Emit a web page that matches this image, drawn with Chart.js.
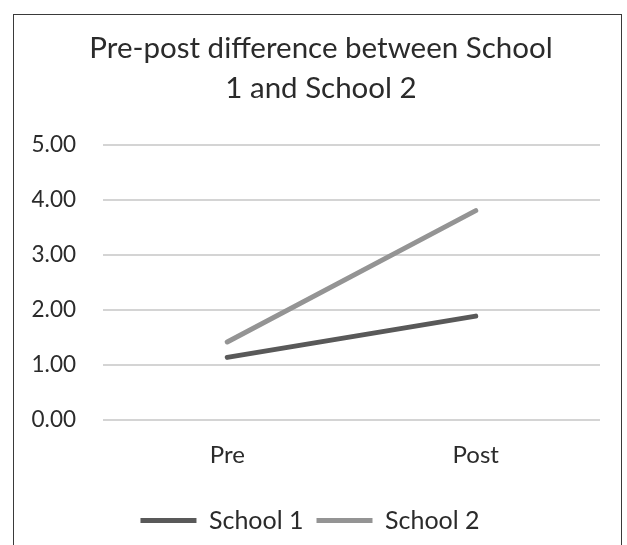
<!DOCTYPE html>
<html>
<head>
  <title>Pre-post difference</title>
  <script src="https://cdn.jsdelivr.net/npm/chart.js"></script>
  <style>
    body {
      margin: 0;
      padding: 0;
      background: #fff;
      overflow: hidden;
    }
    .wrap {
      position: relative;
      width: 627px;
      height: 545px;
    }
    .frame {
      position: absolute;
      left: 13px;
      top: 14px;
      width: 607px;
      height: 600px;
      border: 1px solid #3a3a3a;
      pointer-events: none;
    }
  </style>
</head>
<body>
<div class="wrap">
  <canvas id="chart" width="627" height="545"></canvas>
  <div class="frame"></div>
</div>
<script>
  // ==== Data ====
  const categories = ['Pre', 'Post'];
  const school1 = [1.14, 1.89];
  const school2 = [1.42, 3.81];
  const titleLines = ['Pre-post difference between School', '1 and School 2'];

  const fontFamily = 'Lato, "Open Sans", Arial, sans-serif';
  const textColor = '#2b2b2b';

  // the original title sits centred on the framed box, not on the padded area
  const shiftTitle = {
    id: 'shiftTitle',
    afterLayout(chart) {
      const t = chart.titleBlock;
      if (t) { t.left += 11; t.right += 11; }
    }
  };

  new Chart(document.getElementById('chart'), {
    type: 'line',
    data: {
      labels: categories,
      datasets: [
        {
          label: 'School 1',
          data: school1,
          borderColor: '#595959',
          backgroundColor: '#595959',
          borderWidth: 5,
          borderCapStyle: 'round',
          pointRadius: 0,
          tension: 0
        },
        {
          label: 'School 2',
          data: school2,
          borderColor: '#949494',
          backgroundColor: '#949494',
          borderWidth: 5,
          borderCapStyle: 'round',
          pointRadius: 0,
          tension: 0
        }
      ]
    },
    options: {
      responsive: false,
      animation: false,
      layout: {
        padding: { left: 20, right: 27, top: 28, bottom: 2 }
      },
      plugins: {
        title: {
          display: true,
          text: titleLines,
          color: textColor,
          font: { family: fontFamily, size: 29.5, weight: 'normal', lineHeight: 1.36 },
          padding: { top: 0, bottom: 37 }
        },
        legend: {
          position: 'bottom',
          labels: {
            color: textColor,
            font: { family: fontFamily, size: 25 },
            usePointStyle: true,
            pointStyle: 'line',
            pointStyleWidth: 56,
            padding: 13
          }
        },
        tooltip: { enabled: false }
      },
      scales: {
        x: {
          offset: true,
          grid: { display: false, drawTicks: false },
          border: { display: false },
          ticks: {
            color: textColor,
            font: { family: fontFamily, size: 24 },
            padding: 21
          },
          afterFit: scale => { scale.height = 75; }
        },
        y: {
          min: 0,
          max: 5,
          ticks: {
            stepSize: 1,
            color: textColor,
            font: { family: fontFamily, size: 22.5 },
            padding: 27,
            callback: v => v.toFixed(2)
          },
          grid: { color: '#d4d4d4', lineWidth: 2, drawTicks: false },
          border: { display: false },
          afterFit: scale => { scale.width = 83; }
        }
      }
    },
    plugins: [shiftTitle]
  });
</script>
</body>
</html>
